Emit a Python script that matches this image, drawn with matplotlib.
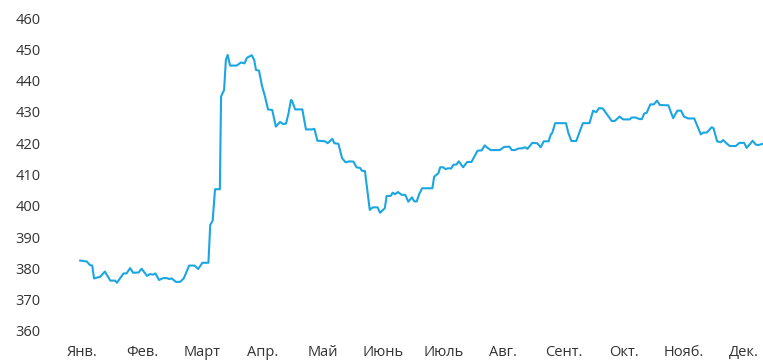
import matplotlib
matplotlib.use("Agg")
import matplotlib.pyplot as plt

months = ["Янв.", "Фев.", "Март", "Апр.", "Май", "Июнь", "Июль", "Авг.",
          "Сент.", "Окт.", "Нояб.", "Дек."]
y_ticks = [360, 370, 380, 390, 400, 410, 420, 430, 440, 450, 460]

# time position in months (0 = start of January)
t = [-0.03, 0.08, 0.13, 0.17, 0.20, 0.30, 0.38, 0.47, 0.55, 0.58, 0.69, 0.74,
     0.80, 0.85, 0.94, 0.99, 1.08, 1.13, 1.18, 1.22, 1.28, 1.35, 1.41, 1.45,
     1.49, 1.56, 1.63, 1.69, 1.78, 1.87, 1.93, 2.00, 2.10, 2.13, 2.17, 2.21,
     2.29, 2.31, 2.36, 2.39, 2.42, 2.46, 2.57, 2.64, 2.70, 2.74, 2.82, 2.86,
     2.89, 2.94, 2.99, 3.04, 3.09, 3.16, 3.22, 3.29, 3.34, 3.39, 3.43, 3.47,
     3.49, 3.54, 3.66, 3.72, 3.82, 3.86, 3.91, 4.04, 4.08, 4.16, 4.19, 4.26,
     4.32, 4.38, 4.44, 4.51, 4.56, 4.62, 4.65, 4.70, 4.78, 4.83, 4.91, 4.95,
     5.03, 5.06, 5.13, 5.16, 5.20, 5.25, 5.31, 5.37, 5.42, 5.48, 5.52, 5.56,
     5.60, 5.65, 5.82, 5.85, 5.92, 5.95, 6.00, 6.04, 6.08, 6.13, 6.17, 6.22,
     6.26, 6.29, 6.33, 6.40, 6.47, 6.50, 6.57, 6.64, 6.69, 6.73, 6.79, 6.94,
     7.01, 7.10, 7.14, 7.19, 7.25, 7.32, 7.36, 7.40, 7.48, 7.56, 7.62, 7.67,
     7.75, 7.79, 7.81, 7.86, 8.04, 8.08, 8.13, 8.21, 8.32, 8.43, 8.49, 8.54,
     8.59, 8.65, 8.80, 8.85, 8.93, 8.99, 9.10, 9.13, 9.20, 9.26, 9.30, 9.34,
     9.38, 9.44, 9.50, 9.55, 9.60, 9.74, 9.82, 9.89, 9.95, 10.00, 10.07, 10.17,
     10.28, 10.32, 10.38, 10.46, 10.49, 10.55, 10.61, 10.65, 10.71, 10.76,
     10.86, 10.92, 11.00, 11.04, 11.10, 11.14, 11.19, 11.23, 11.31]

values = [382.5, 382.2, 381.1, 380.9, 376.8, 377.3, 379.0, 376.1, 376.1, 375.4,
          378.4, 378.4, 380.1, 378.6, 378.7, 379.9, 377.6, 378.2, 378.0, 378.4,
          376.3, 376.9, 376.9, 376.6, 376.8, 375.7, 375.7, 376.8, 380.9, 380.9,
          379.8, 381.8, 381.8, 393.9, 395.2, 405.3, 405.3, 434.9, 437.0, 446.6,
          448.2, 444.8, 444.8, 445.8, 445.5, 447.3, 448.1, 446.6, 443.4, 443.2,
          438.3, 434.9, 430.8, 430.6, 425.3, 426.8, 426.1, 426.3, 429.5, 433.8,
          433.5, 430.8, 430.8, 424.4, 424.4, 424.6, 420.8, 420.6, 420.0, 421.4,
          420.0, 419.8, 415.2, 413.9, 414.2, 414.1, 412.3, 412.1, 411.2, 411.1,
          398.7, 399.5, 399.5, 397.8, 399.2, 403.1, 403.2, 404.2, 403.7, 404.4,
          403.5, 403.5, 401.3, 402.7, 401.4, 401.4, 403.7, 405.6, 405.6, 409.3,
          410.4, 412.3, 412.3, 411.7, 412.0, 411.9, 413.1, 413.2, 414.2, 413.4,
          412.3, 414.0, 414.0, 415.1, 417.6, 417.7, 419.3, 418.6, 417.8, 417.8,
          418.8, 418.9, 417.8, 417.8, 418.3, 418.4, 418.7, 418.2, 420.1, 420.0,
          418.7, 420.6, 420.6, 422.9, 423.2, 426.4, 426.4, 423.2, 420.7, 420.7,
          426.4, 426.4, 430.4, 429.9, 431.2, 431.1, 427.1, 427.1, 428.5, 427.6,
          427.6, 428.2, 428.2, 427.7, 427.7, 429.5, 429.7, 432.4, 432.4, 433.6,
          432.2, 432.1, 428.0, 430.4, 430.4, 428.5, 427.9, 427.9, 422.8, 423.4,
          423.4, 425.1, 424.8, 420.6, 420.3, 421.0, 419.9, 419.1, 419.1, 420.1,
          420.1, 418.5, 419.8, 420.8, 419.6, 419.4, 419.8]

W, H = 763, 360
fig = plt.figure(figsize=(W / 100, H / 100), dpi=100)
ax = fig.add_axes([60 / W, 1 - 331 / H, 1 - 60 / W, (331 - 18) / H])

ax.plot(t, values, color="#1ba6e2", linewidth=1.5, solid_joinstyle="round")

ax.set_xlim((60 - 82) / 60.2, (763 - 82) / 60.2)
ax.set_ylim(360, 460)
ax.set_yticks(y_ticks)
ax.set_xticks(range(len(months)))
ax.set_xticklabels(months)

for s in ax.spines.values():
    s.set_visible(False)
ax.tick_params(axis="both", length=0, labelsize=10.5, colors="#333333",
               labelfontfamily="Open Sans")
ax.tick_params(axis="y", pad=14)
ax.tick_params(axis="x", pad=10)

fig.savefig("out.png", dpi=100)
